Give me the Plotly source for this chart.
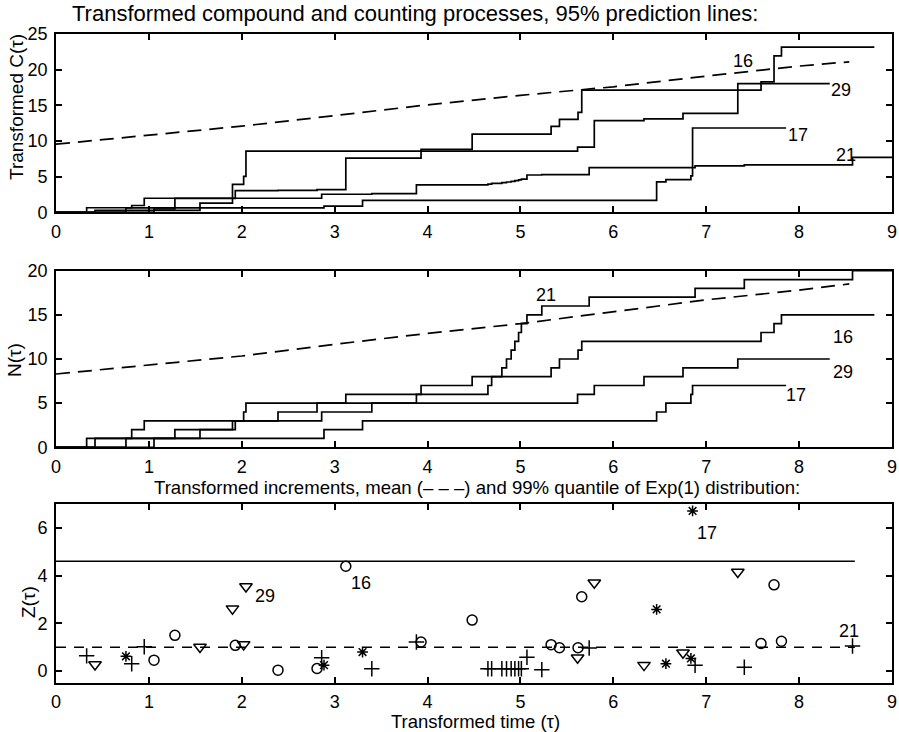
import numpy as np
import plotly.graph_objects as go

# ---------------- data ----------------
# event times (transformed time tau) and transformed increments Z for each series
t16 = [1.055, 1.28, 1.93, 2.39, 2.81, 3.12, 3.93, 4.48, 5.33, 5.42, 5.62, 5.66, 7.59, 7.73, 7.81]
z16 = [0.46, 1.50, 1.08, 0.04, 0.11, 4.40, 1.22, 2.14, 1.11, 0.98, 0.98, 3.12, 1.16, 3.62, 1.25]
end16 = 8.81

t29 = [0.42, 1.55, 1.90, 2.02, 2.045, 5.615, 5.795, 6.33, 6.75, 7.34]
z29 = [0.28, 1.01, 2.62, 1.12, 3.55, 0.56, 3.71, 0.25, 0.77, 4.16]
end29 = 8.33

t17 = [0.753, 2.885, 3.30, 6.466, 6.566, 6.835, 6.853]
z17 = [0.62, 0.25, 0.80, 2.59, 0.31, 0.53, 6.72]
end17 = 7.86

t21 = [0.33, 0.815, 0.95, 2.86, 3.40, 3.88, 4.65, 4.69, 4.80, 4.85, 4.90,
       4.94, 4.98, 5.01, 5.07, 5.23, 5.74, 6.88, 7.41, 8.575]
z21 = [0.64, 0.31, 1.02, 0.56, 0.10, 1.22, 0.10, 0.10, 0.10, 0.10, 0.10,
       0.10, 0.10, 0.10, 0.58, 0.06, 0.97, 0.24, 0.16, 1.05]
end21 = 9.1

series_names = ["16", "29", "17", "21"]

# 95% prediction lines
pred_x = [0, 1, 2, 3, 4, 5, 6, 7, 8, 8.54]
pred_C = [9.55, 10.86, 12.08, 13.56, 15.07, 16.4, 17.6, 19.1, 20.5, 21.1]
pred_N = [8.3, 9.3, 10.34, 11.66, 12.9, 14.0, 15.36, 16.7, 17.8, 18.5]

# Exp(1): mean and 99% quantile, drawn over tau range
ref_x = [0, 8.6]
exp_mean = 1.0
exp_q99 = 4.605

# label positions (x, y) per panel
lab_C = {"16": (7.40, 21.15), "29": (8.45, 17.2), "17": (7.99, 10.9), "21": (8.51, 8.1)}
lab_N = {"21": (5.27, 17.25), "16": (8.47, 12.5), "29": (8.47, 8.56), "17": (7.97, 5.92)}
lab_Z = {"16": (3.28, 3.71), "29": (2.25, 3.15), "17": (7.01, 5.81), "21": (8.54, 1.68)}

markers = {"16": "circle-open", "29": "triangle-down-open", "17": "asterisk-open", "21": "cross-thin-open"}
msize = {"16": 10, "29": 11, "17": 9, "21": 11}

data = {"16": (t16, z16, end16), "29": (t29, z29, end29),
        "17": (t17, z17, end17), "21": (t21, z21, end21)}

# ---------------- figure ----------------
FONT = "Liberation Sans, Arial, Helvetica, sans-serif"
fig = go.Figure()

for name in series_names:
    t, z, end = data[name]
    C = np.cumsum(z)
    N = np.arange(1, len(t) + 1)
    xs = [0] + list(t) + [end]
    fig.add_trace(go.Scatter(x=xs, y=[0] + list(C) + [C[-1]], mode="lines", line_shape="hv",
                             line=dict(color="black", width=1.7), xaxis="x", yaxis="y",
                             showlegend=False, hoverinfo="skip"))
    fig.add_trace(go.Scatter(x=xs, y=[0] + list(N) + [N[-1]], mode="lines", line_shape="hv",
                             line=dict(color="black", width=1.7), xaxis="x2", yaxis="y2",
                             showlegend=False, hoverinfo="skip"))
    fig.add_trace(go.Scatter(x=t, y=z, mode="markers",
                             marker=dict(symbol=markers[name], size=msize[name], color="black",
                                         line=dict(color="black", width=1.5)),
                             xaxis="x3", yaxis="y3", showlegend=False, hoverinfo="skip",
                             cliponaxis=False))

fig.add_trace(go.Scatter(x=pred_x, y=pred_C, mode="lines", line=dict(color="black", width=1.7, dash="14px,8px"),
                         xaxis="x", yaxis="y", showlegend=False))
fig.add_trace(go.Scatter(x=pred_x, y=pred_N, mode="lines", line=dict(color="black", width=1.7, dash="14px,8px"),
                         xaxis="x2", yaxis="y2", showlegend=False))
fig.add_trace(go.Scatter(x=ref_x, y=[exp_mean, exp_mean], mode="lines",
                         line=dict(color="black", width=1.5, dash="10px,8px"),
                         xaxis="x3", yaxis="y3", showlegend=False))
fig.add_trace(go.Scatter(x=ref_x, y=[exp_q99, exp_q99], mode="lines",
                         line=dict(color="black", width=1.5),
                         xaxis="x3", yaxis="y3", showlegend=False))

ann = []
for labs, xr, yr in [(lab_C, "x", "y"), (lab_N, "x2", "y2"), (lab_Z, "x3", "y3")]:
    for k, (lx, ly) in labs.items():
        ann.append(dict(x=lx, y=ly, xref=xr, yref=yr, text=k, showarrow=False,
                        xanchor="center", yanchor="middle",
                        font=dict(size=18, color="black", family=FONT)))

W, H = 899, 732
L, R, T, B = 56, 7, 34, 49
PW, PH = W - L - R, H - T - B


def px(xp):  # window pixel -> paper x
    return (xp - L) / PW


def py(yp):  # window pixel -> paper y
    return (H - B - yp) / PH


def note(x, y, text, size, angle=0):
    return dict(x=px(x), y=py(y), xref="paper", yref="paper", showarrow=False,
                xanchor="center", yanchor="middle", textangle=angle, text=text,
                font=dict(size=size, color="black", family=FONT))


ann += [
    note(415, 14, "Transformed compound and counting processes, 95% prediction lines:", 22),
    note(477, 487, "Transformed increments, mean (– – –) and 99% quantile of Exp(1) distribution:", 18.6),
    note(476, 721, "Transformed time (τ)", 18.5),
    note(17, 107, "Transformed C(τ)", 19, -90),
    note(14, 360, "N(τ)", 19, -90),
    note(28, 602, "Z(τ)", 19, -90),
]

axis_common = dict(showline=True, linecolor="black", linewidth=1.7, mirror="ticks",
                   ticks="inside", ticklen=6, tickwidth=1.5, tickcolor="black",
                   showgrid=False, zeroline=False, automargin=False,
                   tickfont=dict(size=18, color="black", family=FONT))

dom_top = [py(212.3), 1.0]
dom_mid = [py(447.3), py(270.7)]
dom_bot = [0.0, py(504.3)]

fig.update_layout(
    template="none",
    width=W, height=H, autosize=False,
    margin=dict(l=L, r=R, t=T, b=B, autoexpand=False),
    paper_bgcolor="white", plot_bgcolor="white",
    font=dict(family=FONT, color="black"),
    showlegend=False,
    xaxis=dict(range=[0, 9], dtick=1, anchor="y", ticklabelstandoff=2, **axis_common),
    yaxis=dict(range=[0, 25], dtick=5, domain=dom_top, anchor="x", ticklabelstandoff=3, **axis_common),
    xaxis2=dict(range=[0, 9], dtick=1, anchor="y2", ticklabelstandoff=2, **axis_common),
    yaxis2=dict(range=[0, 20], dtick=5, domain=dom_mid, anchor="x2", ticklabelstandoff=3, **axis_common),
    xaxis3=dict(range=[0, 9], dtick=1, anchor="y3", ticklabelstandoff=2, **axis_common),
    yaxis3=dict(range=[-0.5, 7], tickvals=[0, 2, 4, 6], domain=dom_bot, anchor="x3",
                ticklabelstandoff=3, **axis_common),
    annotations=ann,
)

# remove the page's default 8px body margin so the 899x732 figure fills the window exactly
fig.write_html("out.html", config={"responsive": False, "displayModeBar": False},
               post_script="document.body.style.margin='0px';")
